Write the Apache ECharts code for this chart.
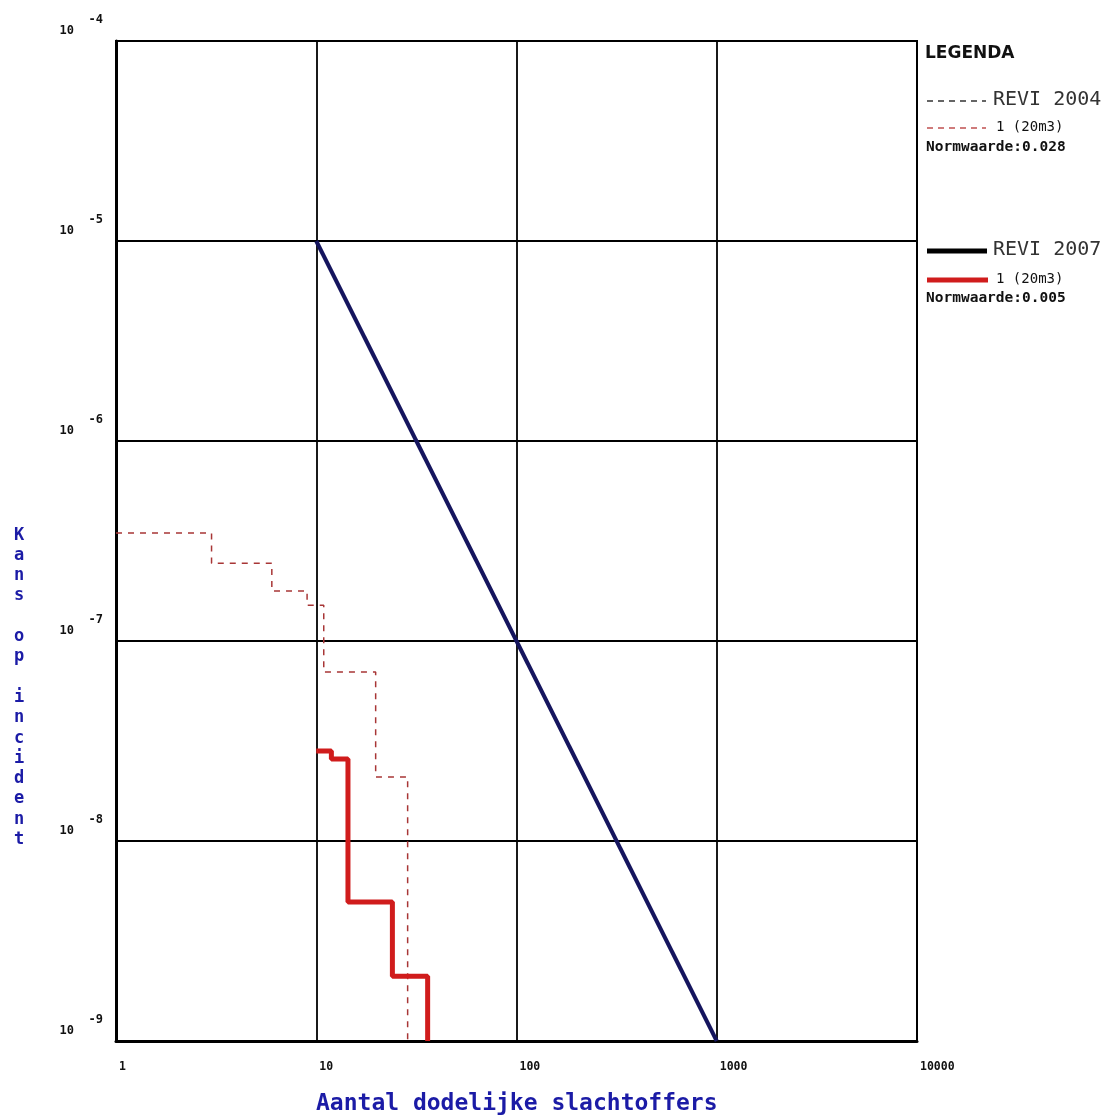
<!DOCTYPE html>
<html>
<head>
<meta charset="utf-8">
<script src="https://cdn.jsdelivr.net/npm/echarts@6/dist/echarts.min.js"></script>
<style>
  html, body { margin: 0; padding: 0; background: #fff; }
  #chart { width: 1115px; height: 1120px; }
</style>
</head>
<body>
<div id="chart"></div>
<script>
// FN-curve, REVI 2004 vs REVI 2007 (1 (20m3))
var xTicks = [1, 10, 100, 1000, 10000];
var revi2004 = [[1, 3.47e-7], [3, 2.45e-7], [6, 1.78e-7], [9, 1.51e-7], [10.9, 7.0e-8], [19.8, 2.09e-8], [28.6, 1e-9]];
var revi2007 = [[10, 2.82e-8], [11.9, 2.57e-8], [14.4, 4.95e-9], [24, 2.11e-9], [36, 1e-9]];
var normLine = [[10, 1e-5], [1000, 1e-9]];
var legendItems = [
  { name: 'REVI 2004', sub: '1 (20m3)', norm: 'Normwaarde:0.028' },
  { name: 'REVI 2007', sub: '1 (20m3)', norm: 'Normwaarde:0.005' }
];

var mono = '"DejaVu Sans Mono", monospace';
var blue = '#1b1ba6';

var myChart = echarts.init(document.getElementById('chart'));

var graphic = [
  { type: 'text', left: 925, top: 45, style: { text: 'LEGENDA', font: 'bold 17px "DejaVu Sans"', fill: '#111' } },
  // REVI 2004
  { type: 'line', shape: { x1: 927, y1: 101, x2: 986, y2: 101 }, style: { stroke: '#333', lineWidth: 1.5, lineDash: [6, 5] } },
  { type: 'text', left: 993, top: 90, style: { text: legendItems[0].name, font: '20px ' + mono, fill: '#333' } },
  { type: 'line', shape: { x1: 927, y1: 128, x2: 986, y2: 128 }, style: { stroke: '#c05050', lineWidth: 1.5, lineDash: [6, 5] } },
  { type: 'text', left: 996, top: 120, style: { text: legendItems[0].sub, font: '14px ' + mono, fill: '#111' } },
  { type: 'text', left: 926, top: 140, style: { text: legendItems[0].norm, font: 'bold 14.5px ' + mono, fill: '#111' } },
  // REVI 2007
  { type: 'line', shape: { x1: 927, y1: 251, x2: 987, y2: 251 }, style: { stroke: '#000', lineWidth: 5 } },
  { type: 'text', left: 993, top: 240, style: { text: legendItems[1].name, font: '20px ' + mono, fill: '#333' } },
  { type: 'line', shape: { x1: 927, y1: 280, x2: 988, y2: 280 }, style: { stroke: '#d01c1c', lineWidth: 5 } },
  { type: 'text', left: 996, top: 272, style: { text: legendItems[1].sub, font: '14px ' + mono, fill: '#111' } },
  { type: 'text', left: 926, top: 291, style: { text: legendItems[1].norm, font: 'bold 14.5px ' + mono, fill: '#111' } },
  // axis titles
  { type: 'text', left: 316, top: 1093, style: { text: 'Aantal dodelijke slachtoffers', font: 'bold 23px ' + mono, fill: blue } },
  { type: 'text', left: 14, top: 525, style: { text: 'K\na\nn\ns\n\no\np\n\ni\nn\nc\ni\nd\ne\nn\nt', font: 'bold 17px ' + mono, fill: blue, lineHeight: 20.3, align: 'left' } }
];

var option = {
  backgroundColor: '#fff',
  animation: false,
  grid: { left: 116, top: 41, right: 198, bottom: 79, show: true, borderColor: '#000', borderWidth: 2 },
  xAxis: {
    type: 'log',
    logBase: 10,
    min: xTicks[0],
    max: xTicks[xTicks.length - 1],
    axisLine: { show: true, lineStyle: { color: '#000', width: 3 } },
    axisTick: { show: false },
    splitLine: { show: true, lineStyle: { color: '#000', width: 1.8 } },
    axisLabel: {
      align: 'left',
      margin: 20,
      padding: [0, 0, 0, 3],
      fontFamily: mono,
      fontWeight: 'bold',
      fontSize: 11.5,
      color: '#111',
      formatter: function (v) { return String(Math.round(v)); }
    }
  },
  yAxis: {
    type: 'log',
    logBase: 10,
    min: 1e-9,
    max: 1e-4,
    axisLine: { show: true, lineStyle: { color: '#000', width: 3 } },
    axisTick: { show: false },
    splitLine: { show: true, lineStyle: { color: '#000', width: 1.8 } },
    axisLabel: {
      align: 'right',
      verticalAlign: 'bottom',
      margin: 13,
      padding: [0, 0, 5, 0],
      formatter: function (v) {
        var e = Math.round(Math.log(v) / Math.LN10);
        return '{s|' + e + '}\n{b|10}';
      },
      rich: {
        s: { fontFamily: mono, fontWeight: 'bold', fontSize: 12, color: '#111', lineHeight: 11 },
        b: { fontFamily: mono, fontWeight: 'bold', fontSize: 12, color: '#111', lineHeight: 11, padding: [0, 29, 0, 0] }
      }
    }
  },
  graphic: graphic,
  series: [
    {
      name: 'REVI 2004 1 (20m3)',
      type: 'line',
      step: 'end',
      data: revi2004,
      symbol: 'none',
      lineStyle: { color: '#a83636', width: 1.5, type: [6, 6] },
      z: 3
    },
    {
      name: 'REVI 2007 1 (20m3)',
      type: 'line',
      step: 'end',
      data: revi2007,
      symbol: 'none',
      lineStyle: { color: '#d01c1c', width: 5 },
      z: 4
    },
    {
      name: 'Normlijn',
      type: 'line',
      data: normLine,
      symbol: 'none',
      lineStyle: { color: '#15155e', width: 4 },
      z: 5
    }
  ]
};

myChart.setOption(option);
</script>
</body>
</html>
